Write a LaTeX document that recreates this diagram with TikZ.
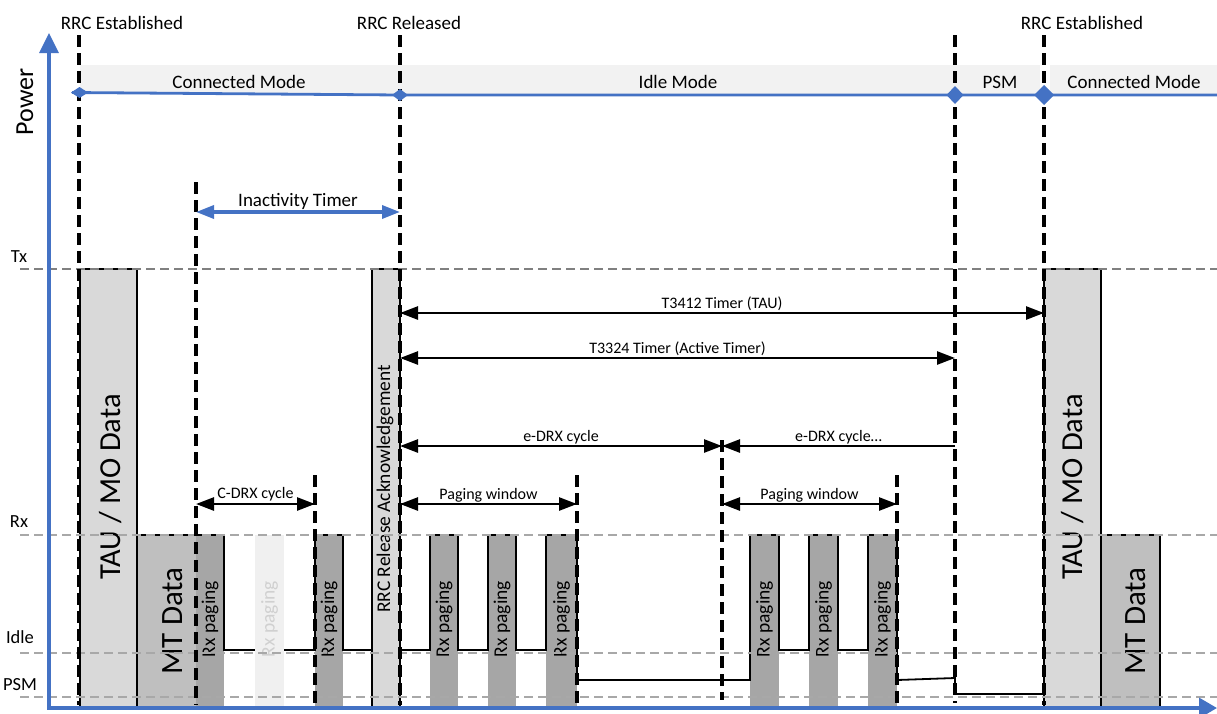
\documentclass[tikz,border=0pt]{standalone}
\usepackage{fontspec}
\setmainfont{Carlito}
\usetikzlibrary{arrows.meta}
\definecolor{axblue}{HTML}{4472C4}
\definecolor{lgray}{HTML}{D9D9D9}
\definecolor{mgray}{HTML}{BFBFBF}
\definecolor{dgray}{HTML}{A6A6A6}
\definecolor{fgray}{HTML}{F0F0F0}
\definecolor{fgtext}{HTML}{D0D0D0}
\definecolor{bandgray}{HTML}{F2F2F2}
\definecolor{txgray}{HTML}{808080}
\definecolor{lvgray}{HTML}{A8A8A8}
\begin{document}
\begin{tikzpicture}[x=1pt,y=-1pt,
  evline/.style={draw=black, line width=3.4pt, dash pattern=on 12pt off 6pt},
  lvline/.style={line width=2.6pt, dash pattern=on 9pt off 5pt},
  sig/.style={draw=black, line width=1.8pt, line join=miter},
  tim/.style={draw=black, line width=2.6pt, {Triangle[length=18pt,width=13pt]}-{Triangle[length=18pt,width=13pt]}},
  timl/.style={draw=black, line width=2.6pt, -{Triangle[length=18pt,width=13pt]}},
  lbl/.style={font=\fontsize{16}{18}\selectfont, anchor=base, inner sep=0pt, text=black},
  big/.style={font=\fontsize{19}{22}\selectfont, anchor=base, inner sep=0pt, text=black},
  lvl/.style={font=\fontsize{18.5}{21}\selectfont, anchor=base, inner sep=0pt},
  rxp/.style={rotate=90, font=\fontsize{19.5}{22}\selectfont, inner sep=0pt},
  huge/.style={rotate=90, anchor=base, inner sep=0pt},
]
\useasboundingbox (0,0) rectangle (1217,713);

% mode band
\fill[bandgray] (80,65) rectangle (1040,94);
\fill[bandgray] (1050,65) rectangle (1217,94);

% bars (fills)
\fill[lgray] (80,269) rectangle (137,706);
\fill[mgray] (137,535) rectangle (196,706);
\fill[dgray] (196,535) rectangle (224,706);
\fill[fgray] (255,535) rectangle (284,706);
\fill[dgray] (315,535) rectangle (343,706);
\fill[lgray] (372,269) rectangle (400,706);
\foreach \xa/\xb in {430/458,488/516,546/577,750/779,809/838,868/897}
  \fill[dgray] (\xa,535) rectangle (\xb,706);
\fill[lgray] (1044,269) rectangle (1101,706);
\fill[mgray] (1101,535) rectangle (1160,706);

% signal outline
\draw[sig] (80,706) -- (80,269) -- (137,269) -- (137,706);
\draw[sig] (137,535) -- (224,535) -- (224,650) -- (255,650);
\draw[sig] (284,650) -- (315,650) -- (315,535) -- (343,535) -- (343,650) -- (372,650);
\draw[sig] (372,706) -- (372,269) -- (400,269) -- (400,706);
\draw[sig] (400,650) -- (430,650) -- (430,535) -- (458,535) -- (458,650) -- (488,650)
  -- (488,535) -- (516,535) -- (516,650) -- (546,650) -- (546,535) -- (577,535)
  -- (577,680) -- (750,680) -- (750,535) -- (779,535) -- (779,650) -- (809,650)
  -- (809,535) -- (838,535) -- (838,650) -- (868,650) -- (868,535) -- (897,535)
  -- (897,680) -- (955,678) -- (955,694) -- (1044,694);
\draw[sig] (1044,706) -- (1044,269) -- (1101,269) -- (1101,706);
\draw[sig] (1101,535) -- (1160,535) -- (1160,706);

% texts in bars
\node[huge, font=\fontsize{30.5}{32}\selectfont] (tau1) at (120,487) {TAU / MO Data};
\node[huge, font=\fontsize{31}{33}\selectfont] (mt1) at (182,621) {MT Data};
\node[huge, font=\fontsize{30.5}{32}\selectfont] (tau2) at (1082,487) {TAU / MO Data};
\node[huge, font=\fontsize{31}{33}\selectfont] (mt2) at (1145,621) {MT Data};
\node[rxp] (rx1) at (210,619) {Rx paging};
\node[rxp, text=fgtext] (rxf) at (269.5,619) {Rx paging};
\node[rxp] (rx2) at (329,619) {Rx paging};
\foreach \c [count=\i] in {444,502,561.5,764.5,823.5,882.5}
  \node[rxp] (rxb\i) at (\c,619) {Rx paging};
\node[rxp, font=\fontsize{19.4}{22}\selectfont] (ack) at (385,489) {RRC Release Acknowledgement};

% level dashed lines
\draw[lvline, txgray] (20,269) -- (1217,269);
\draw[lvline, lvgray] (20,535) -- (1217,535);
\draw[lvline, lvgray] (20,653) -- (1217,653);
\draw[lvline, lvgray] (20,697) -- (1217,697);

% level labels
\node[lvl] (ltx) at (19,262) {Tx};
\node[lvl] (lrx) at (19,527) {Rx};
\node[lvl] (lid) at (20,643) {Idle};
\node[lvl] (lpsm) at (20,690) {PSM};

% vertical dashed event lines
\draw[evline] (79,35) -- (79,705);
\draw[evline] (400,35) -- (400,705);
\draw[evline] (196,182) -- (196,705);
\draw[evline] (315,475) -- (315,705);
\draw[evline] (577,475) -- (577,708);
\draw[evline] (722,440) -- (722,700);
\draw[evline] (897,475) -- (897,708);
\draw[evline] (955,35) -- (955,703);
\draw[evline] (1044,35) -- (1044,705);

% axes
\coordinate (ytop) at (49,33);
\coordinate (orig) at (49,708);
\coordinate (xend) at (1217,708);
\draw[axblue, line width=3.4pt, line join=miter,
  {Triangle[length=20pt,width=19pt]}-{Triangle[length=18pt,width=20pt]}] (ytop) -- (orig) -- (xend);
\node[huge, font=\fontsize{26}{28}\selectfont] (power) at (33,102) {Power};

% mode line and diamonds
\coordinate (m0) at (72,92.5);
\coordinate (m1) at (400,95);
\coordinate (m2) at (1217,95);
\draw[axblue, line width=2.8pt] (m0) -- (m1) -- (m2);
\fill[axblue] (71,92.5) -- ++(8.5,-5.5) -- ++(8.5,5.5) -- ++(-8.5,5.5) -- cycle;
\fill[axblue] (392,95) -- ++(8,-6) -- ++(8,6) -- ++(-8,6) -- cycle;
\fill[axblue] (946.5,95) -- ++(8.5,-9) -- ++(8.5,9) -- ++(-8.5,9) -- cycle;
\fill[axblue] (1034,95) -- ++(10,-10) -- ++(10,10) -- ++(-10,10) -- cycle;

% mode labels
\node[big] (cm1) at (239,88) {Connected Mode};
\node[big] (idm) at (678,88) {Idle Mode};
\node[big] (psm) at (1000,88) {PSM};
\node[big] (cm2) at (1134,88) {Connected Mode};

% event labels
\node[big] (e1) at (122,29) {RRC Established};
\node[big] (e2) at (409,29) {RRC Released};
\node[big] (e3) at (1082,29) {RRC Established};

% timers
\coordinate (it1) at (196,212); \coordinate (it2) at (400,212);
\draw[axblue, line width=3.4pt, {Triangle[length=18pt,width=13pt]}-{Triangle[length=18pt,width=13pt]}]
  (it1) -- node[big, yshift=6pt] {Inactivity Timer} (it2);
\coordinate (ta1) at (400,313); \coordinate (ta2) at (1044,313);
\draw[tim] (ta1) -- node[lbl, yshift=5pt] {T3412 Timer (TAU)} (ta2);
\coordinate (tb1) at (400,358); \coordinate (tb2) at (955,358);
\draw[tim] (tb1) -- node[lbl, yshift=5pt] {T3324 Timer (Active Timer)} (tb2);
\coordinate (ed1) at (400,446); \coordinate (ed2) at (722,446); \coordinate (ed3) at (955,446);
\draw[tim] (ed1) -- node[lbl, yshift=5pt] {e-DRX cycle} (ed2);
\draw[timl] (ed3) -- node[lbl, yshift=5pt] {e-DRX cycle…} (ed2);
\coordinate (cd1) at (196,504); \coordinate (cd2) at (315,504);
\draw[tim] (cd1) -- node[lbl, yshift=6pt] {C-DRX cycle} (cd2);
\coordinate (pw1) at (400,504); \coordinate (pw2) at (577,504);
\draw[tim] (pw1) -- node[lbl, yshift=5pt] {Paging window} (pw2);
\coordinate (pw3) at (722,504); \coordinate (pw4) at (897,504);
\draw[tim] (pw3) -- node[lbl, yshift=5pt] {Paging window} (pw4);
\end{tikzpicture}
\end{document}
